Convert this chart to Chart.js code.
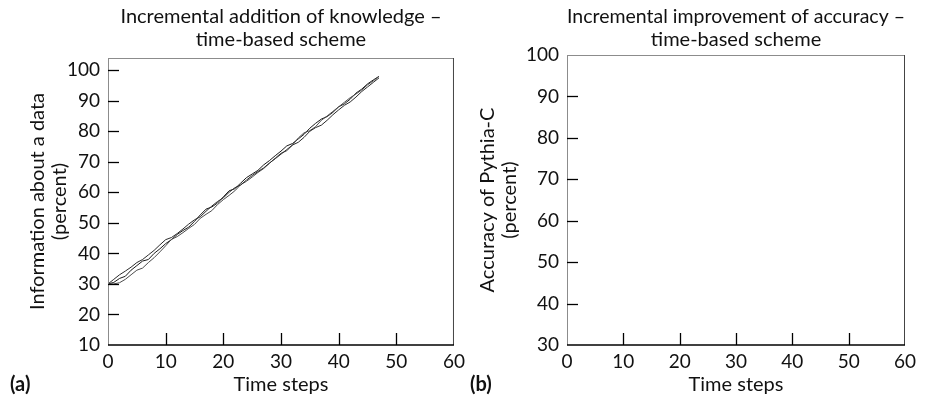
<!DOCTYPE html>
<html>
<head>
<meta charset="utf-8">
<script src="https://cdn.jsdelivr.net/npm/chart.js@4/dist/chart.umd.min.js"></script>
<style>
  body { margin: 0; background: #fff; }
  #wrap { position: relative; width: 927px; height: 404px; overflow: hidden; font-family: Lato, "Open Sans", sans-serif; }
  .panel { position: absolute; top: 0; height: 404px; }
  #panelA { left: 0; width: 470px; }
  #panelB { left: 463px; width: 464px; }
  .tag { position: absolute; top: 371px; font-size: 20px; font-weight: bold; color: #111; }
</style>
</head>
<body>
<div id="wrap">
  <div class="panel" id="panelA"><canvas id="chartA"></canvas></div>
  <div class="panel" id="panelB"><canvas id="chartB"></canvas></div>
  <span class="tag" style="left:10px">(a)</span>
  <span class="tag" style="left:470px">(b)</span>
</div>
<script>
// time steps 0..47
const steps = [0, 1, 2, 3, 4, 5, 6, 7, 8, 9, 10, 11, 12, 13, 14, 15, 16, 17, 18, 19, 20, 21, 22, 23,
  24, 25, 26, 27, 28, 29, 30, 31, 32, 33, 34, 35, 36, 37, 38, 39, 40, 41, 42, 43, 44, 45, 46, 47];

// information about the data (percent), three runs
const runOne = [30, 31.5, 33, 34.2, 35.5, 37, 38, 39.5, 41, 42.8, 44.5, 45.2, 46.5, 48, 49.6, 51,
  52, 53.8, 55.5, 57, 58.2, 60, 61.5, 62.4, 64, 65.5, 66.8, 68, 69.6, 71, 72.5, 74,
  75.5, 76.4, 78, 80, 81.2, 82, 83.6, 85.4, 87, 88.5, 89.6, 91.2, 93, 94.5, 96, 97.5];
const runTwo = [30, 30, 30.4, 31.5, 33, 34.5, 35.2, 37, 38.6, 40.5, 42.5, 44.6, 45.5, 46.8, 48.2, 49.5,
  51.5, 52.8, 54, 56, 57.6, 59, 60.5, 62.5, 63.6, 65, 66.5, 67.8, 69.5, 71.2, 72.8, 73.6,
  75.5, 77.8, 79.5, 80.2, 81.5, 83.6, 85, 86.5, 88, 89.5, 91, 92.2, 93.5, 95.2, 96.5, 98];
const runThree = [30, 30.5, 31.8, 32.5, 34.5, 36, 37.5, 38, 40, 41.5, 43.2, 44.5, 46.2, 47.5, 48.6, 50.5,
  52.6, 54.5, 55.2, 56.5, 58.5, 60.5, 61.2, 63, 64.8, 66, 67.2, 69, 70.4, 72, 73.5, 75.2,
  76, 77.5, 79, 81, 82.6, 84, 84.8, 86.2, 88, 89, 90.5, 92.5, 93.8, 95.5, 96.8, 98];

const xRange = [0, 60];
const knowledgeRange = [10, 104];
const accuracyRange = [30, 100];

const FONT = 'Lato, "Open Sans", sans-serif';

// box around the plot area plus tick marks pointing inwards
const frame = {
  id: 'frame',
  afterDraw(chart) {
    const { ctx, chartArea: a, scales: { x, y } } = chart;
    const seg = (x1, y1, x2, y2) => { ctx.beginPath(); ctx.moveTo(x1, y1); ctx.lineTo(x2, y2); ctx.stroke(); };
    ctx.save();
    ctx.lineWidth = 1;
    ctx.strokeStyle = '#8c8c8c';
    seg(a.left + 0.5, a.bottom, a.left + 0.5, a.top + 0.5);
    seg(a.left, a.top + 0.5, a.right, a.top + 0.5);
    ctx.strokeStyle = '#444';
    seg(a.right - 0.5, a.top, a.right - 0.5, a.bottom);
    ctx.strokeStyle = '#000';
    ctx.lineWidth = 1.5;
    seg(a.left, a.bottom, a.right, a.bottom);
    ctx.lineWidth = 1.3;
    x.ticks.forEach(t => {
      if (t.value <= x.min || t.value >= x.max) return;
      const px = Math.round(x.getPixelForValue(t.value)) + 0.5;
      seg(px, a.bottom, px, a.bottom - 12);
    });
    y.ticks.forEach(t => {
      if (t.value <= y.min || t.value >= y.max) return;
      const py = Math.round(y.getPixelForValue(t.value)) + 0.5;
      seg(a.left, py, a.left + 11, py);
    });
    ctx.restore();
  }
};

function makeOptions(cfg) {
  return {
    responsive: false,
    animation: false,
    layout: { padding: { left: 0, right: cfg.right, top: 0, bottom: 0 } },
    plugins: {
      legend: { display: false },
      tooltip: { enabled: false },
      title: {
        display: true,
        fullSize: false,
        text: cfg.title,
        color: '#111',
        font: { family: FONT, size: 20, weight: 'normal', lineHeight: 1.15 },
        padding: { top: 5, bottom: cfg.titleGap }
      }
    },
    scales: {
      x: {
        type: 'linear',
        min: xRange[0],
        max: xRange[1],
        afterFit: s => { s.height = 59; },
        grid: { display: false, drawTicks: false },
        border: { display: false },
        ticks: { stepSize: 10, padding: 5, color: '#111', font: { family: FONT, size: 19 } },
        title: {
          display: true,
          text: 'Time steps',
          color: '#111',
          font: { family: FONT, size: 20, lineHeight: 1.1 },
          padding: { top: 0, bottom: 8 }
        }
      },
      y: {
        type: 'linear',
        min: cfg.yRange[0],
        max: cfg.yRange[1],
        afterFit: s => { s.width = cfg.yWidth; },
        grid: { display: false, drawTicks: false },
        border: { display: false },
        ticks: { stepSize: 10, includeBounds: false, padding: 8, color: '#111', font: { family: FONT, size: 19 } },
        title: {
          display: true,
          text: cfg.yTitle,
          color: '#111',
          font: { family: FONT, size: 20, lineHeight: 1.1 },
          padding: { top: cfg.yTitlePad, bottom: 0 }
        }
      }
    }
  };
}

function lineSet(values, color) {
  return {
    data: steps.map((s, i) => ({ x: s, y: values[i] })),
    borderColor: color,
    borderWidth: 1,
    pointRadius: 0,
    tension: 0,
    fill: false
  };
}

const canvasA = document.getElementById('chartA');
canvasA.width = 470; canvasA.height = 404;
new Chart(canvasA, {
  type: 'line',
  data: {
    datasets: [
      lineSet(runOne, '#2a2a2a'),
      lineSet(runTwo, '#4a4a4a'),
      lineSet(runThree, '#1a1a1a')
    ]
  },
  options: makeOptions({
    right: 15,
    title: ['Incremental addition of knowledge \u2013', 'time-based scheme'],
    titleGap: 7,
    yRange: knowledgeRange,
    yWidth: 108,
    yTitle: ['Information about a data', '(percent)'],
    yTitlePad: 27
  }),
  plugins: [frame]
});

const canvasB = document.getElementById('chartB');
canvasB.width = 464; canvasB.height = 404;
new Chart(canvasB, {
  type: 'line',
  data: { datasets: [] },
  options: makeOptions({
    right: 22,
    title: ['Incremental improvement of accuracy \u2013', 'time-based scheme'],
    titleGap: 4,
    yRange: accuracyRange,
    yWidth: 104,
    yTitle: ['Accuracy of Pythia-C', '(percent)'],
    yTitlePad: 14
  }),
  plugins: [frame]
});
</script>
</body>
</html>
